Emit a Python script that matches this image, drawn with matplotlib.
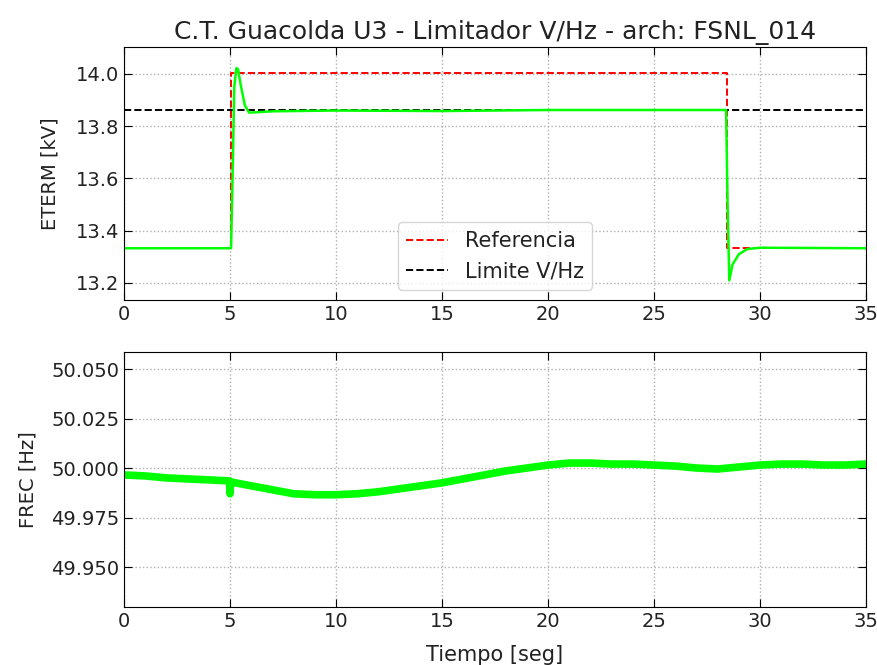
import matplotlib
matplotlib.use("Agg")
import matplotlib.pyplot as plt

# ---- data ----
ref_t = [0, 5.05, 5.05, 28.44, 28.44, 35]
ref_v = [13.333, 13.333, 14.005, 14.005, 13.333, 13.333]

lim_t = [0, 35]
lim_v = [13.863, 13.863]

eterm_t = [0, 5.05, 5.12, 5.2, 5.3, 5.38, 5.5, 5.7, 5.9, 6.2, 7, 10, 15, 20, 25,
           28.4, 28.47, 28.55, 28.7, 29.0, 29.4, 30, 35]
eterm_v = [13.333, 13.333, 13.6, 13.95, 14.022, 14.018, 13.96, 13.88, 13.852, 13.853,
           13.857, 13.86, 13.858, 13.862, 13.862, 13.862, 13.5, 13.21, 13.27, 13.31,
           13.33, 13.335, 13.333]

frec_t = [0, 1, 2, 3, 4, 4.98, 5.0, 5.02, 6, 7, 8, 9, 10, 11, 12, 13, 14, 15, 16, 17,
          18, 19, 20, 21, 22, 23, 24, 25, 26, 27, 28, 29, 30, 31, 32, 33, 34, 35]
frec_v = [49.9965, 49.996, 49.995, 49.9945, 49.994, 49.9935, 49.987, 49.993, 49.991,
          49.989, 49.987, 49.9865, 49.9865, 49.987, 49.988, 49.9895, 49.991, 49.9925,
          49.9945, 49.9965, 49.9985, 50.0, 50.0015, 50.0025, 50.0025, 50.002, 50.002,
          50.0015, 50.001, 50.0, 49.9995, 50.0005, 50.0015, 50.002, 50.002, 50.0015,
          50.0015, 50.002]

GREEN = "#00ff00"
TXT = "#222222"

fig = plt.figure(figsize=(8.77, 6.65), dpi=100)
ax1 = fig.add_axes([0.1414, 0.5489, 0.8461, 0.3804])
ax2 = fig.add_axes([0.1414, 0.0872, 0.8461, 0.3835])


def style(ax):
    ax.grid(True, linestyle=":", color="#b0b0b0", linewidth=1.0)
    ax.tick_params(direction="in", top=True, right=True, length=6, labelsize=14,
                   labelcolor=TXT)
    ax.set_xlim(0, 35)
    ax.set_xticks([0, 5, 10, 15, 20, 25, 30, 35])


# --- top: ETERM ---
ax1.plot(ref_t, ref_v, "--", color="red", lw=1.4, label="Referencia")
ax1.plot(lim_t, lim_v, "--", color="black", lw=1.4, label="Limite V/Hz")
ax1.plot(eterm_t, eterm_v, "-", color=GREEN, lw=1.8)
style(ax1)
ax1.set_ylim(13.135, 14.103)
ax1.set_yticks([13.2, 13.4, 13.6, 13.8, 14.0])
ax1.set_ylabel("ETERM [kV]", fontsize=14, color=TXT, labelpad=12)
ax1.set_title("C.T. Guacolda U3 - Limitador V/Hz - arch: FSNL_014", fontsize=18,
              color=TXT)
leg = ax1.legend(loc="lower center", fontsize=15)
for t in leg.get_texts():
    t.set_color(TXT)

# --- bottom: FREC ---
ax2.plot(frec_t, frec_v, "-", color=GREEN, lw=5.5, solid_joinstyle="round")
style(ax2)
ax2.set_ylim(49.9298, 50.0586)
ax2.set_yticks([49.95, 49.975, 50.0, 50.025, 50.05])
ax2.set_yticklabels(["49.950", "49.975", "50.000", "50.025", "50.050"])
ax2.set_ylabel("FREC [Hz]", fontsize=14, color=TXT, labelpad=10)
ax2.set_xlabel("Tiempo [seg]", fontsize=15, color=TXT, labelpad=10)

fig.savefig("out.png", dpi=100)
